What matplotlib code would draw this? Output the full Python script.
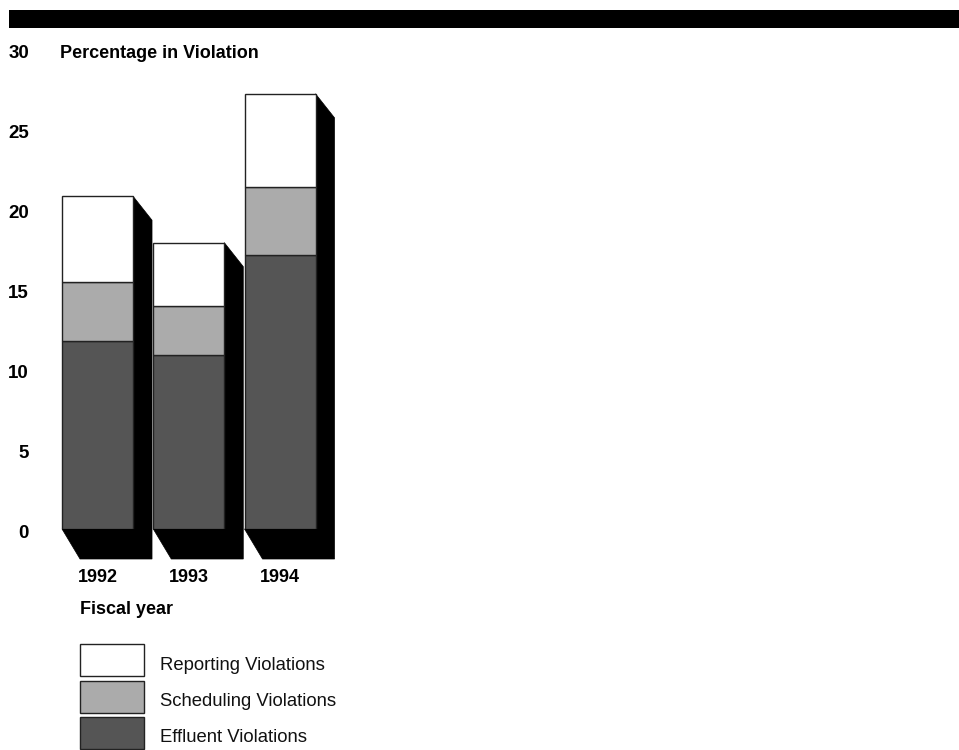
import matplotlib

matplotlib.use("Agg")

import matplotlib.pyplot as plt
import matplotlib.transforms as mtransforms
from matplotlib.patches import Polygon, Rectangle

plt.rcParams["font.family"] = ["Liberation Sans", "DejaVu Sans"]

years = ["1992", "1993", "1994"]
effluent = [11.75, 10.85, 17.1]
scheduling = [3.7, 3.1, 4.25]
reporting = [5.35, 3.95, 5.85]
y_ticks = [0, 5, 10, 15, 20, 25, 30]

series = [
    ("Effluent Violations", effluent, "#555555"),
    ("Scheduling Violations", scheduling, "#ababab"),
    ("Reporting Violations", reporting, "#ffffff"),
]

W, H = 959, 750
fig = plt.figure(figsize=(W / 100, H / 100), dpi=100)


def px_box(x, y, w, h):
    # pixel box measured from the top-left corner -> figure fraction
    return [x / W, 1 - (y + h) / H, w / W, h / H]


ax = fig.add_axes(px_box(51.9, 49, 273.75, 480))
ax.set_xlim(-0.5, 2.5)
ax.set_ylim(0, 30)
for spine in ax.spines.values():
    spine.set_visible(False)

bar_width = 0.778
positions = list(range(len(years)))
totals = [e + s + r for e, s, r in zip(effluent, scheduling, reporting)]

# extruded black shadow behind each stacked bar (offsets in pixels)
px_x = 273.75 / 3.0
px_y = 480 / 30.0
side_dx, side_dy = 19 / px_x, 24 / px_y
base_dx, base_dy = 18 / px_x, 30 / px_y
for pos, total in zip(positions, totals):
    x0 = pos - bar_width / 2
    x1 = pos + bar_width / 2
    shadow = Polygon(
        [
            (x0, 0),
            (x0 + base_dx, -base_dy),
            (x1 + side_dx, -base_dy),
            (x1 + side_dx, total - side_dy),
            (x1, total),
            (x1, 0),
        ],
        closed=True,
        facecolor="black",
        edgecolor="black",
        linewidth=0.5,
        clip_on=False,
        zorder=1,
    )
    ax.add_patch(shadow)

bottom = [0.0] * len(years)
for name, values, color in series:
    ax.bar(
        positions,
        values,
        bottom=bottom,
        width=bar_width,
        color=color,
        edgecolor="#222222",
        linewidth=1.0,
        zorder=2,
        label=name,
    )
    bottom = [b + v for b, v in zip(bottom, values)]

ax.set_yticks(y_ticks)
ax.set_yticklabels([str(t) for t in y_ticks], fontsize=13.5, fontweight="bold")
ax.tick_params(axis="y", length=0, pad=16.5)
shift = mtransforms.ScaledTranslation(0, -3 / 100, fig.dpi_scale_trans)
for lab in ax.get_yticklabels():
    lab.set_transform(lab.get_transform() + shift)

ax.set_xticks(positions)
ax.set_xticklabels(years, fontsize=13, fontweight="bold")
ax.tick_params(axis="x", length=0, pad=28.5)

fig.text(60 / W, 1 - 54 / H, "Percentage in Violation", fontsize=13,
         fontweight="bold", va="center", ha="left")
fig.text(80 / W, 1 - 610 / H, "Fiscal year", fontsize=13,
         fontweight="bold", va="center", ha="left")

# black band across the top
fig.patches.append(Rectangle((9 / W, 1 - 28 / H), (W - 9) / W, 18 / H,
                             transform=fig.transFigure, facecolor="black",
                             edgecolor="none"))

# legend: swatches with labels to the right
legend_items = list(reversed(series))
for i, (name, _, color) in enumerate(legend_items):
    top = 644 + i * 36.5
    fig.patches.append(Rectangle((80 / W, 1 - (top + 32) / H), 64 / W, 32 / H,
                                 transform=fig.transFigure, facecolor=color,
                                 edgecolor="#222222", linewidth=1.0))
    fig.text(160 / W, 1 - (top + 21) / H, name, fontsize=13.3,
             va="center", ha="left", color="#111111")

fig.savefig("out.png", dpi=100)
plt.close(fig)
